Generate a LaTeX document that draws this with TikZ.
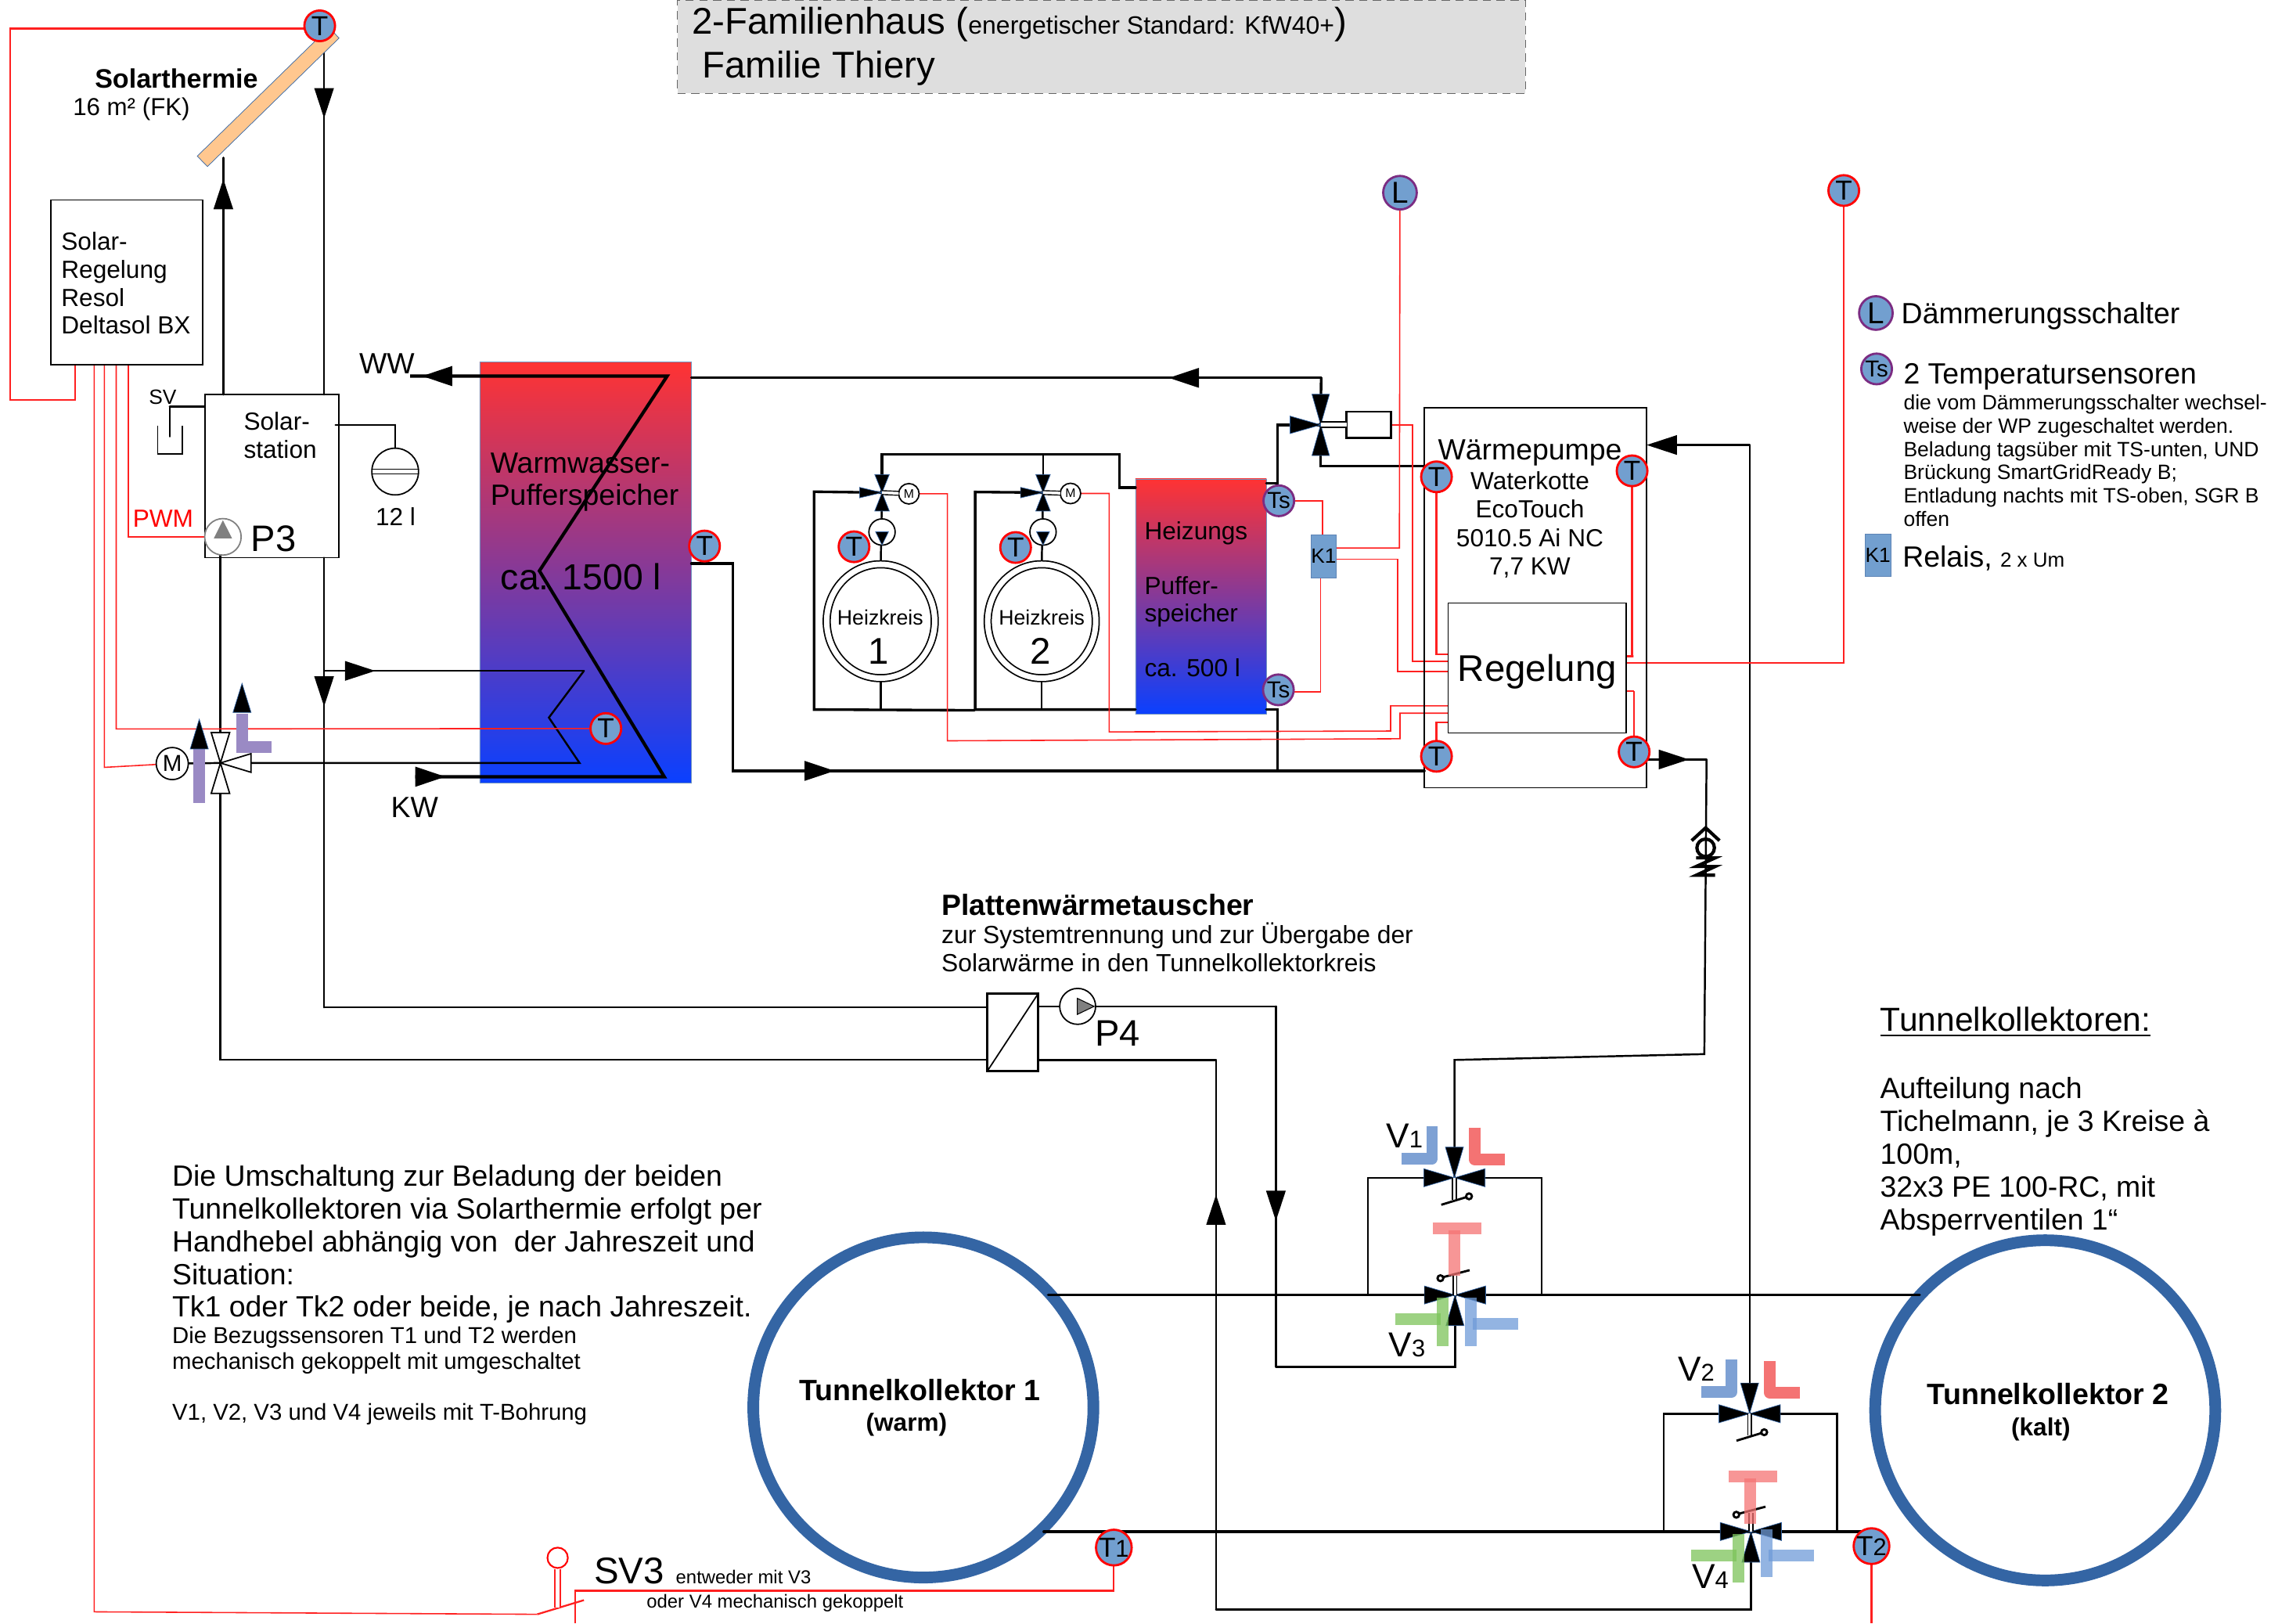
\documentclass[tikz,border=0pt]{standalone}
\usepackage{fontspec}
\setmainfont{Liberation Sans}
\usetikzlibrary{arrows.meta, positioning, backgrounds, shapes.geometric, decorations.markings}

\definecolor{sensorblue}{HTML}{729FCF}
\definecolor{ringblue}{HTML}{3465A4}
\definecolor{lilac}{HTML}{9A8AC4}
\definecolor{solarfill}{HTML}{FFC78F}
\definecolor{hotred}{HTML}{FF3333}
\definecolor{coldblue}{HTML}{0A40FF}
\definecolor{lxpurple}{HTML}{7B2C82}
\definecolor{barblue}{HTML}{7EA1D4}
\definecolor{barred}{HTML}{F47373}
\definecolor{bargreen}{HTML}{7CC35A}
\definecolor{barsky}{HTML}{6F9BD8}
\definecolor{wirered}{HTML}{FF2020}
\def\px{0.018654cm}
\newcommand{\subnr}[1]{{\fontsize{8.8}{9}\selectfont #1}}

\tikzset{
    f14/.style={font=\fontsize{13.5}{16}\selectfont},
    f12/.style={font=\fontsize{12}{14}\selectfont},
    f105/.style={font=\fontsize{10.65}{11.95}\selectfont},
    f9/.style={font=\fontsize{9}{10.2}\selectfont},
    f76/.style={font=\fontsize{7.6}{9}\selectfont},
    f75/.style={font=\fontsize{7.5}{8.5}\selectfont},
    f68/.style={font=\fontsize{6.8}{8}\selectfont},
    lbl/.style={inner sep=0pt,outer sep=0pt,align=left,anchor=west},
    block/.style={draw,inner sep=0pt,outer sep=0pt,anchor=north west,line width=.5pt},
    tank/.style={inner sep=0pt,outer sep=0pt,anchor=north west,top color=hotred,bottom color=coldblue,
        draw=ringblue!70,line width=.2pt},
    sensor/.style={circle,draw=red,fill=sensorblue,line width=.8pt,inner sep=0pt,outer sep=0pt,
        minimum size=21*\px,font=\fontsize{10}{10}\selectfont},
    lxsensor/.style={sensor,draw=lxpurple,font=\fontsize{8.4}{9}\selectfont},
    relay/.style={draw=ringblue!80,fill=sensorblue,line width=.2pt,inner sep=0pt,outer sep=0pt,
        font=\fontsize{7.5}{8}\selectfont},
    motor/.style={circle,draw,fill=white,line width=.5pt,inner sep=0pt,outer sep=0pt},
    tunnel/.style={circle,draw=ringblue,line width=4.25pt,minimum size=233*\px,inner sep=0pt,outer sep=0pt},
    pipe/.style={draw,line width=.7pt,line cap=round},
    mainpipe/.style={draw,line width=.95pt,line cap=round},
    coil/.style={draw,line width=1.2pt,line join=miter},
    wire/.style={draw=wirered,line width=.45pt},
    wireb/.style={draw=wirered,line width=.65pt},
    stemline/.style={draw,double,double distance=1pt,line width=.4pt},
    wedge/.style={fill=black,draw=ringblue,line width=.2pt},
    whitewedge/.style={fill=white,draw=black,line width=.5pt},
    graywedge/.style={fill=gray,draw=gray,line width=.3pt},
    flowat/.style={postaction={decorate,decoration={markings,
        mark=at position #1 with {\arrow{Triangle[length=11pt,width=7pt]}}}}},
    blueL/.style={draw=barblue,line width=4.25pt,line join=round},
    redL/.style={draw=barred,line width=4.25pt,line join=round},
    redT/.style={draw=barred,line width=4.25pt,opacity=.75},
    greenT/.style={draw=bargreen,line width=4.25pt,opacity=.75},
    blueT/.style={draw=barsky,line width=4.25pt,opacity=.75},
    pics/wg/.style n args={3}{code={\path[#3] (0,0) -- (#1,-#2) -- (#1,#2) -- cycle;}},
    pics/hvtop/.style 2 args={code={
        \foreach \ang in {0,90,180} \pic[rotate=\ang] at (0,0) {wg={21}{6.2}{wedge}};
        \draw[stemline] (0,0) -- (0,15);
        \draw[line width=.8pt] (-9,18.5) -- (10,12.7);
        \draw[line width=.8pt,fill=white] (10,12.7) circle[radius=2*\px];
        \draw[blueL] (-15.3+#1,-35.3+#2) -- (-15.3+#1,-13.2+#2) -- (-36.3+#1,-13.2+#2);
        \draw[redL] (13.7,-34.4+#2) -- (13.7,-12.7+#2) -- (34.7,-12.7+#2);
    }},
    pics/hvbot/.style 2 args={code={
        \foreach \ang in {0,180,270} \pic[rotate=\ang] at (0,0) {wg={21}{6.2}{wedge}};
        \draw[stemline] (0,0) -- (0,-13);
        \draw[line width=.8pt] (-9,-12) -- (10,-17);
        \draw[line width=.8pt,fill=white] (-10,-11.5) circle[radius=2*\px];
        \draw[redT] (-15.3,-45.4+#1) -- (18,-45.4+#1);
        \draw[redT] (-.4,-44.2+#1) -- (-.4,-13+#1);
        \draw[greenT] (-8.5,1.8) -- (-8.5,34.8);
        \draw[greenT] (-40.7,16.5) -- (-9.7,16.5);
        \draw[blueT] (11,1.8+#2) -- (11,34.8+#2);
        \draw[blueT] (12.3,19.7+#2) -- (43.3,19.7+#2);
    }},
    pics/checkv/.style={code={
        \draw[line width=1.2pt] (-9.6,-4.9) -- (0,-13.7) -- (9.5,-4.9);
        \draw[line width=1.2pt] (0,0) circle[radius=6*\px];
        \draw[line width=1.2pt] (-6.5,6.9) -- (6.5,6.9) -- (-6.5,12.8) -- (6.5,12.8) -- (-6.5,18.8) -- (6.5,18.8);
    }},
}

\begin{document}
\begin{tikzpicture}[x=\px,y=-\px]
    \useasboundingbox (0,0) rectangle (1568,1112);

    \begin{scope}[on background layer]
        \node[tank,minimum width=145*\px,minimum height=288*\px] (store) at (328.6,248) {};
        \node[tank,minimum width=89.7*\px,minimum height=161.3*\px] (heat) at (777.8,328) {};
    \end{scope}

    \node[block,draw=black!60,densely dashed,line width=.35pt,fill=black!13,minimum width=581*\px,minimum height=64*\px] (titlebox) at (464,0) {};
    \node[lbl,f14] (title1) at (474,17) {2-Familienhaus ({\fontsize{9.1}{10}\selectfont energetischer Standard: KfW40+})};
    \node[lbl,f14] (title2) at (481,47) {Familie Thiery};

    \node[draw=ringblue,fill=solarfill,line width=.2pt,rotate=44.3,minimum width=126*\px,minimum height=10*\px,inner sep=0pt] (collector) at (183.7,66.5) {};
    \node[lbl,font=\fontsize{9.7}{11}\selectfont] (solarname) at (65,54) {\textbf{Solarthermie}};
    \node[lbl,font=\fontsize{8.9}{10}\selectfont] (solarsize) at (50,75) {16 m² (FK)};

    \node[block,minimum width=104*\px,minimum height=113*\px] (solreg) at (35,137) {};
    \node[lbl,f9] (solregtext) at (42,194) {Solar-\\Regelung\\Resol\\Deltasol BX};
    \node[block,minimum width=91.6*\px,minimum height=111.7*\px] (station) at (140.4,270.3) {};
    \node[lbl,f9] (stationtext) at (167,298) {Solar-\\station};
    \node[motor,draw=gray,minimum size=25*\px] (P3) at (152.7,367.7) {};
    \node[lbl,font=\fontsize{13.4}{14}\selectfont] (P3name) at (172,369) {P3};
    \node[lbl,f9,red] (pwm) at (91,355) {PWM};
    \node[lbl,f75] (sv) at (102,272) {SV};
    \node[motor,minimum size=32*\px] (expn) at (270.7,323) {};
    \node[f9,inner sep=0pt] (expnsize) at (271,354) {12 l};

    \node[lbl,font=\fontsize{10.65}{11.7}\selectfont] (storename) at (336,330) {Warmwasser-\\Pufferspeicher};
    \node[lbl,font=\fontsize{13.2}{15}\selectfont] (storesize) at (343,395) {ca. 1500 l};
    \node[f105,inner sep=0pt] (ww) at (265,249) {WW};
    \node[f105,inner sep=0pt] (kw) at (284,553) {KW};
    \node[motor,minimum size=22*\px,font=\fontsize{8.4}{9}\selectfont] (mixM) at (118,523) {M};

    \node[motor,double,double distance=2pt,ellipse,minimum width=74*\px,minimum height=78*\px] (hk1) at (603.3,425.5) {};
    \node[motor,double,double distance=2pt,ellipse,minimum width=74*\px,minimum height=78*\px] (hk2) at (713.6,425.5) {};
    \node[f76,inner sep=0pt] (hk1a) at (603,423) {Heizkreis};
    \node[f14,inner sep=0pt] (hk1b) at (602,446) {1};
    \node[f76,inner sep=0pt] (hk2a) at (713.6,423) {Heizkreis};
    \node[f14,inner sep=0pt] (hk2b) at (713,446) {2};
    \node[motor,minimum size=18*\px] (hp1) at (604.2,364.4) {};
    \node[motor,minimum size=18*\px] (hp2) at (714.5,364.4) {};
    \node[motor,minimum size=14*\px,font=\fontsize{4.5}{5}\selectfont] (m1) at (622.6,338.2) {M};
    \node[motor,minimum size=14*\px,font=\fontsize{4.5}{5}\selectfont] (m2) at (733.3,338) {M};
    \coordinate (mv1) at (604.2,337.4);
    \coordinate (mv2) at (714.5,337.4);

    \node[lbl,f9] (heattext) at (784,410.5) {Heizungs\\[9.5pt]Puffer-\\speicher\\[9.5pt]ca. 500 l};

    \coordinate (uv) at (904.7,291);
    \node[block,line width=.8pt,minimum width=30.7*\px,minimum height=18*\px] (uvBox) at (922.3,282) {};
    \node[relay,minimum width=17.4*\px,minimum height=29.1*\px] (k1) at (906.7,381) {K1};

    \node[block,minimum width=152.3*\px,minimum height=260.4*\px] (wp) at (975.7,279.2) {};
    \node[f105,inner sep=0pt] (wpname) at (1048,310) {Wärmepumpe};
    \node[inner sep=0pt,align=center,font=\fontsize{9}{10.35}\selectfont] (wpdata) at (1048,359.5) {Waterkotte\\EcoTouch\\5010.5 Ai NC\\7,7 KW};
    \node[block,minimum width=121.8*\px,minimum height=89*\px] (reg) at (992,413) {};
    \node[f14,inner sep=0pt] (regname) at (1053,460) {Regelung};

    \node[sensor] (Tcoll) at (219,17.7) {T};
    \node[sensor] (Tstore) at (482.6,374) {T};
    \node[sensor] (Tlow) at (415,499) {T};
    \node[sensor] (Thk1) at (585,374.5) {T};
    \node[sensor] (Thk2) at (695.7,375) {T};
    \node[sensor] (Twp1) at (984,326.6) {T};
    \node[sensor] (Twp2) at (1118,322.5) {T};
    \node[sensor] (Twp3) at (984,518) {T};
    \node[sensor] (Twp4) at (1119.4,515) {T};
    \node[sensor] (Tright) at (1263,130.5) {T};
    \node[lxsensor,minimum size=23*\px,font=\fontsize{11}{11}\selectfont] (Lsw) at (959,132) {L};
    \node[lxsensor] (TsTop) at (876,343) {Ts};
    \node[lxsensor] (TsBot) at (875.7,472.5) {Ts};

    \node[lxsensor,minimum size=23*\px,font=\fontsize{11}{11}\selectfont] (legL) at (1285,214.4) {L};
    \node[lbl,f105,right=6*\px of legL,yshift=-2*\px] (legLtext) {Dämmerungsschalter};
    \node[lxsensor] (legTs) at (1285.5,252.7) {Ts};
    \node[lbl,f105] (legTstext) at (1304,258) {2 Temperatursensoren};
    \node[lbl,font=\fontsize{7.55}{8.5}\selectfont] (legTsnote) at (1304,315.5) {die vom Dämmerungsschalter wechsel-\\weise der WP zugeschaltet werden.\\Beladung tagsüber mit TS-unten, UND\\Brückung SmartGridReady B;\\Entladung nachts mit TS-oben, SGR B\\offen};
    \node[relay,minimum width=17.9*\px,minimum height=29.2*\px] (legK1) at (1286.4,380.2) {K1};
    \node[lbl,f105,right=8*\px of legK1,yshift=-2*\px] (legK1text) {Relais, {\fontsize{7.4}{8}\selectfont 2 x Um}};

    \node[block,line width=.8pt,minimum width=34.8*\px,minimum height=53*\px] (hx) at (676.4,680.5) {};
    \node[motor,minimum size=24.6*\px] (P4) at (738.2,689.3) {};
    \node[lbl,font=\fontsize{13.4}{14}\selectfont] (P4name) at (750,708) {P4};
    \node[lbl,font=\fontsize{9.05}{10.2}\selectfont] (hxtext) at (645,639) {{\fontsize{10.65}{11}\selectfont\textbf{Plattenwärmetauscher}}\\zur Systemtrennung und zur Übergabe der\\Solarwärme in den Tunnelkollektorkreis};

    \node[tunnel] (tk1) at (632.5,964) {};
    \node[tunnel] (tk2) at (1401,966) {};
    \node[inner sep=0pt,font=\fontsize{10.7}{12}\bfseries] (tk1name) at (630,952) {Tunnelkollektor 1};
    \node[inner sep=0pt,font=\fontsize{9}{10}\bfseries] (tk1type) at (621,976) {(warm)};
    \node[inner sep=0pt,font=\fontsize{10.7}{12}\bfseries] (tk2name) at (1403,955) {Tunnelkollektor 2};
    \node[inner sep=0pt,font=\fontsize{9}{10}\bfseries] (tk2type) at (1398,979) {(kalt)};

    \coordinate (rowAL) at (718,887);
    \coordinate (rowAR) at (1315,887);
    \coordinate (rowBL) at (715,1049);
    \coordinate (rowBR) at (1275,1049);
    \draw[mainpipe] (rowAL) -- (rowAR);
    \draw[mainpipe] (rowBL) -- (rowBR);

    \node[sensor] (T1) at (763,1060) {T\subnr{1}};
    \node[sensor] (T2) at (1282,1059) {T\subnr{2}};

    \coordinate (V1) at (996.3,806.7);
    \coordinate (V2) at (1198.5,968.3);
    \coordinate (V3) at (996.7,887);
    \coordinate (V4) at (1199.4,1049);
    \pic at (V1) {hvtop={0}{0}};
    \pic at (V2) {hvtop={3}{-1.8}};
    \pic at (V3) {hvbot={0}{0}};
    \pic at (V4) {hvbot={7.6}{-3.5}};
    \node[lbl,font=\fontsize{12.6}{14}\selectfont] (V1name) at (949.6,778) {V\subnr{1}};
    \node[lbl,font=\fontsize{12.6}{14}\selectfont] (V2name) at (1149.4,937.5) {V\subnr{2}};
    \node[lbl,font=\fontsize{12.6}{14}\selectfont] (V3name) at (951.3,921) {V\subnr{3}};
    \node[lbl,font=\fontsize{12.6}{14}\selectfont] (V4name) at (1159,1080) {V\subnr{4}};

    \node[lbl,f105] (modetext) at (118,852) {Die Umschaltung zur Beladung der beiden\\Tunnelkollektoren via Solarthermie erfolgt per\\Handhebel abhängig von~ der Jahreszeit und\\Situation:\\Tk1 oder Tk2 oder beide, je nach Jahreszeit.};
    \node[lbl,font=\fontsize{8.35}{9.5}\selectfont] (modenote) at (118,942.5) {Die Bezugssensoren T1 und T2 werden\\mechanisch gekoppelt mit umgeschaltet\\[9pt]V1, V2, V3 und V4 jeweils mit T-Bohrung};
    \node[lbl,font=\fontsize{12.1}{14}\selectfont] (tunnelhead) at (1288,700) {\underline{Tunnelkollektoren:}};
    \node[lbl,f105] (tunneltext) at (1288,792) {Aufteilung nach\\Tichelmann, je 3 Kreise à\\100m,\\32x3 PE 100-RC, mit\\Absperrventilen 1“};

    \node[circle,draw=red,line width=.6pt,fill=white,minimum size=14*\px,inner sep=0pt] (sv3) at (382,1067) {};
    \node[lbl,font=\fontsize{13.5}{14}\selectfont] (sv3name) at (407,1076) {SV3};
    \node[lbl,f68] (sv3a) at (463,1080) {entweder mit V3};
    \node[lbl,f68] (sv3b) at (443,1098) {oder V4 mechanisch gekoppelt};

    \coordinate (cIn) at (153,108);
    \coordinate (cOut) at (222,30);
    \coordinate (hxHot) at (222,690);
    \coordinate (hxCold) at (151,725.9);
    \coordinate (mix) at (151,522.6);
    \coordinate (coilA) at (222,459.5);
    \coordinate (coilB) at (400,459.5);
    \coordinate (coilC) at (376,491.5);
    \coordinate (coilD) at (397,522.6);
    \coordinate (svA) at (116.3,278.6);
    \coordinate (svB) at (116.3,299);
    \coordinate (expA) at (229.8,291);
    \coordinate (wwEnd) at (281,257.6);
    \coordinate (kwEnd) at (284.4,532);
    \coordinate (dhwA) at (455,532);
    \coordinate (dhwB) at (369.5,391);
    \coordinate (dhwC) at (457,257.6);
    \coordinate (topA) at (475,258.8);
    \coordinate (topB) at (905,258.8);
    \coordinate (retA) at (502,386);
    \coordinate (retB) at (502,528);
    \coordinate (heatT) at (875,331);
    \coordinate (heatV) at (875,291);
    \coordinate (heatB) at (875,486);
    \coordinate (heatC) at (875,528);
    \coordinate (uvS) at (904.7,319.3);
    \coordinate (fa) at (557.6,336.8);
    \coordinate (fb) at (557.6,486);
    \coordinate (fc) at (667.5,486.5);
    \coordinate (ga) at (668,337);
    \coordinate (gb) at (668,486);
    \coordinate (ha) at (604.2,311.2);
    \coordinate (hb) at (766.7,311.2);
    \coordinate (hc) at (766.7,333.9);
    \coordinate (rpA) at (1198.5,304.8);
    \coordinate (outA) at (1169,520.2);
    \coordinate (outB) at (1167.5,722);
    \coordinate (outC) at (996.3,726);
    \coordinate (p4R) at (874,689.3);
    \coordinate (v3W) at (874,936.3);
    \coordinate (v3S) at (996.7,936.3);
    \coordinate (hxR) at (833,726);
    \coordinate (v4W) at (833,1102.4);
    \coordinate (v4S) at (1199.4,1102.4);
    \coordinate (frAL) at (937,806.7);
    \coordinate (frAR) at (1056,806.7);
    \coordinate (frBL) at (1139.8,968.3);
    \coordinate (frBR) at (1258.5,968.3);

    \begin{scope}[on background layer]
        \path[pipe]
        (station.north -| cIn) edge [flowat=.91] (cIn)
        (cOut) edge [flowat=.2125] (station.north -| cOut)
        (station.south -| cOut) edge [flowat=.331] (hxHot)
        (hxHot) edge (hx.west |- hxHot)
        (coilA) edge [flowat=.197] (coilB)
        (P3.south -| mix) edge (mix)
        (mixM) edge (mix)
        (hx.east |- P4) edge (P4)
        (P4) edge (p4R)
        (p4R) edge [flowat=.595] (v3W)
        (v4W) edge [flowat=.755] (hxR)
        (hx.east |- hxR) edge (hxR)
        (rpA) edge [-{Triangle[length=11pt,width=7pt]}] (wp.east |- rpA)
        (wp.east |- outA) edge [flowat=.707] (outA)
        (mv1) edge (hk1.north)
        (mv2) edge (hk2.north)
        (hk1.south) edge (hk1.south |- fb)
        (hk2.south) edge (hk2.south |- gb)
        (mv2) edge (mv2 |- ha)
        (station.west |- svA) edge (svA)
        (svA) edge (svB)
        (expA) edge (expA -| expn.north)
        (expA -| expn.north) edge (expn.north)
        ;
        \draw[pipe] (coilB) -- (coilC) -- (coilD) -- (mix);
        \draw[pipe] (mix) -- (hxCold) -- (hx.west |- hxCold);
        \draw[pipe] (outA) -- (outB) -- (outC) -- (V1);
        \draw[pipe] (v3W) -- (v3S) -- (V3);
        \draw[pipe] (v4W) -- (v4S) -- (V4);
        \draw[pipe] (V1) -- (frAL) -- (frAL |- rowAL);
        \draw[pipe] (V1) -- (frAR) -- (frAR |- rowAL);
        \draw[pipe] (V2) -- (frBL) -- (frBL |- rowBL);
        \draw[pipe] (V2) -- (frBR) -- (frBR |- rowBL);
        \draw[pipe] (rpA) -- (V2);

        \draw[coil,flowat=.031,flowat=.988] (kwEnd) -- (dhwA) -- (dhwB) -- (dhwC) -- (wwEnd);
        \draw[mainpipe,flowat=.242] (topB) -- (store.east |- topA);
        \draw[mainpipe] (uv) -- (topB);
        \draw[mainpipe,flowat=.373] (store.east |- retA) -- (retA) -- (retB) -- (wp.west |- retB);
        \draw[mainpipe] (heat.east |- heatT) -- (heatT) -- (heatV) -- (uv);
        \draw[mainpipe] (uv) -- (uvS) -- (wp.west |- uvS);
        \draw[mainpipe] (heat.east |- heatB) -- (heatB) -- (heatC);
        \draw[mainpipe] (mv1) -- (fa) -- (fb) -- (fc);
        \draw[mainpipe] (mv2) -- (ga) -- (gb) -- (heat.west |- gb);
        \draw[mainpipe] (mv1) -- (ha) -- (hb) -- (hc) -- (heat.west |- hc);

        \coordinate (rA) at (7,19.6);
        \coordinate (rB) at (7,274);
        \coordinate (rC) at (51.4,274);
        \coordinate (rD) at (64.5,1104);
        \coordinate (rE) at (368,1105.7);
        \coordinate (rF) at (400,1096);
        \coordinate (rG) at (71.5,525.6);
        \coordinate (rH) at (79.6,499.3);
        \coordinate (rJ) at (87.8,367.7);
        \coordinate (rK) at (394,1089.5);
        \coordinate (rL) at (394,1112);
        \coordinate (rS) at (382,1101);
        \draw[wireb] (Tcoll.center |- rA) -- (rA) -- (rB) -- (rC) -- (solreg.south -| rC);
        \draw[wire] (solreg.south -| rD) -- (rD) -- (rE);
        \draw[wireb] (rE) -- (rF);
        \draw[wire] (solreg.south -| rG) -- (rG) -- (mixM);
        \draw[wire] (solreg.south -| rH) -- (rH) -- (Tlow);
        \draw[wire] (solreg.south -| rJ) -- (rJ) -- (P3);
        \draw[wireb] (T1) -- (T1 |- rK) -- (rK) -- (rL);
        \draw[wire,double,double distance=1.5pt] (sv3) -- (rS);
        \draw[wireb] (T2) -- (T2 |- rL);

        \coordinate (rk1) at (967.6,291);
        \coordinate (rk2) at (967.6,453);
        \coordinate (rk3) at (958.6,375.4);
        \coordinate (rk4) at (957.3,383);
        \coordinate (rk5) at (957.3,460);
        \coordinate (rk6) at (906,343);
        \coordinate (rk7) at (904.7,474);
        \coordinate (rm1) at (649,338.2);
        \coordinate (rm2) at (649,507.4);
        \coordinate (rm3) at (959,506);
        \coordinate (rm4) at (959,488.5);
        \coordinate (rn1) at (759.8,338);
        \coordinate (rn2) at (759.8,501.3);
        \coordinate (rn3) at (952.6,500.7);
        \coordinate (rn4) at (952.6,483.5);
        \coordinate (ra) at (984,448);
        \coordinate (rb) at (1119,449.5);
        \coordinate (rc) at (984,494.6);
        \coordinate (rd) at (1119,473.3);
        \coordinate (re) at (1263,454);
        \draw[wire] (uvBox.east) -- (rk1) -- (rk2) -- (reg.west |- rk2);
        \draw[wire] (k1.east |- rk3) -- (rk3) -- (Lsw);
        \draw[wire] (k1.east |- rk4) -- (rk4) -- (rk5) -- (reg.west |- rk5);
        \draw[wire] (TsTop) -- (rk6) -- (k1.north -| rk6);
        \draw[wire] (TsBot |- rk7) -- (rk7) -- (k1.south -| rk7);
        \draw[wire] (m1) -- (rm1) -- (rm2) -- (rm3) -- (rm4) -- (reg.west |- rm4);
        \draw[wire] (m2) -- (rn1) -- (rn2) -- (rn3) -- (rn4) -- (reg.west |- rn4);
        \draw[wireb] (Twp1) -- (ra) -- (reg.west |- ra);
        \draw[wireb] (Twp2 |- rb) -- (rb) -- (reg.east |- rb);
        \draw[wireb] (Twp2) -- (Twp2 |- rb);
        \draw[wireb] (Twp3) -- (rc) -- (reg.west |- rc);
        \draw[wireb] (Twp4 |- rd) -- (rd) -- (reg.east |- rd);
        \draw[wireb] (Twp4) -- (Twp4 |- rd);
        \draw[wire] (reg.east |- re) -- (re) -- (Tright);
    \end{scope}

    % valve bodies
    \coordinate (mixT) at (151,522.6);
    \foreach \ang in {90,270} \pic[rotate=\ang] at (mixT) {wg={20.8}{6.3}{whitewedge}};
    \pic at (mixT) {wg={21}{6.4}{whitewedge}};
    \foreach \ang in {90,180,270} \pic[rotate=\ang] at (uv) {wg={21}{6}{wedge}};
    \draw[stemline,double distance=1.5pt,line width=.55pt] (uv) -- (uvBox.west);
    \foreach \ang/\len/\wid in {90/12.4/5,180/15.4/3.6,270/12.6/5} {
        \pic[rotate=\ang] at (mv1) {wg={\len}{\wid}{wedge}};
        \pic[rotate=\ang] at (mv2) {wg={\len}{\wid}{wedge}};
    }
    \draw[stemline] (mv1) -- (m1);
    \draw[stemline] (mv2) -- (m2);
    \coordinate (hpTip1) at (604.2,373.3);
    \coordinate (hpTip2) at (714.5,373.3);
    \pic[rotate=90] at (hpTip1) {wg={9}{4.4}{wedge}};
    \pic[rotate=90] at (hpTip2) {wg={9}{4.4}{wedge}};
    \coordinate (p3Tip) at (152.7,357);
    \pic[rotate=270] at (p3Tip) {wg={11.5}{5.8}{graywedge}};
    \coordinate (p4Tip) at (749.5,689.3);
    \pic[rotate=180] at (p4Tip) {wg={11.5}{5.5}{{graywedge,draw=black}}};
    \draw[line width=.5pt] (hx.south west) -- (hx.north east);
    \draw[line width=.4pt] (expn.west) ++(0,-1.5) -- ++(32,0);
    \draw[line width=.4pt] (expn.west) ++(0,1.5) -- ++(32,0);
    \draw[line width=.5pt] (108,291.4) -- (108,311) -- (125,311) -- (125,291.4);
    \pic at (1168.4,580.7) {checkv};

    % hand indicators
    \draw[draw=lilac,line width=4.15pt] (136.5,550) -- (136.5,513);
    \draw[draw=lilac,line width=4.15pt,line join=miter] (186,511.6) -- (166,511.6) -- (166,489);
    \coordinate (liA) at (136.5,492.6);
    \coordinate (liB) at (165.8,468);
    \pic[rotate=270] at (liA) {wg={20.4}{6.2}{wedge}};
    \pic[rotate=270] at (liB) {wg={20}{6.2}{wedge}};
\end{tikzpicture}
\end{document}
